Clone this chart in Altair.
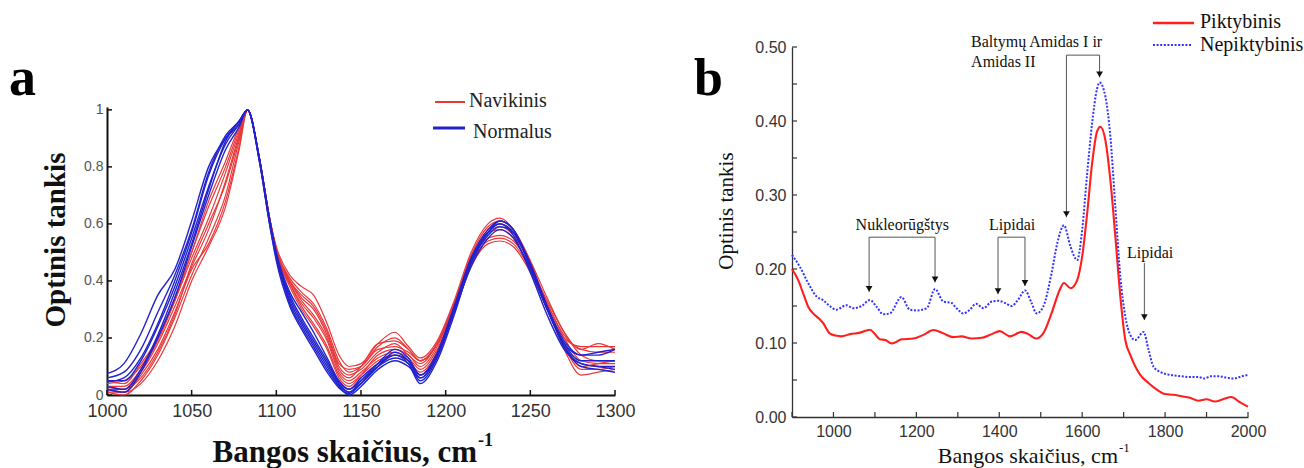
import altair as alt
import pandas as pd

SERIF = "Liberation Serif"
SANS = "Liberation Sans"

# ---------------- Panel a data ----------------
A_X = [1000, 1010, 1020, 1030, 1040, 1050, 1060, 1070, 1078, 1083, 1090, 1096,
       1100, 1108, 1115, 1122, 1130, 1137, 1143, 1150, 1160, 1170, 1178, 1185,
       1195, 1205, 1215, 1225, 1232, 1240, 1250, 1260, 1270, 1280, 1290, 1300]

A_BLUE = [
    [0.075, 0.11, 0.215, 0.35, 0.44, 0.61, 0.80, 0.90, 0.95, 1.0, 0.82, 0.60, 0.47, 0.31, 0.23, 0.16, 0.08, 0.025, 0.005, 0.04, 0.10, 0.15, 0.12, 0.06, 0.14, 0.30, 0.47, 0.57, 0.60, 0.56, 0.43, 0.28, 0.16, 0.11, 0.10, 0.09],
    [0.06, 0.08, 0.16, 0.29, 0.42, 0.58, 0.78, 0.91, 0.96, 1.0, 0.82, 0.60, 0.48, 0.33, 0.25, 0.18, 0.10, 0.035, 0.01, 0.05, 0.11, 0.16, 0.13, 0.07, 0.15, 0.31, 0.48, 0.58, 0.61, 0.58, 0.45, 0.30, 0.18, 0.14, 0.14, 0.16],
    [0.045, 0.06, 0.13, 0.25, 0.40, 0.57, 0.77, 0.90, 0.96, 1.0, 0.82, 0.61, 0.49, 0.35, 0.27, 0.20, 0.12, 0.045, 0.02, 0.06, 0.11, 0.14, 0.11, 0.04, 0.12, 0.28, 0.46, 0.56, 0.59, 0.57, 0.46, 0.31, 0.17, 0.10, 0.09, 0.08],
    [0.02, 0.01, 0.08, 0.20, 0.34, 0.52, 0.70, 0.86, 0.94, 1.0, 0.83, 0.62, 0.50, 0.36, 0.29, 0.22, 0.13, 0.05, 0.02, 0.05, 0.10, 0.13, 0.11, 0.05, 0.13, 0.29, 0.45, 0.55, 0.58, 0.55, 0.44, 0.30, 0.18, 0.12, 0.12, 0.12],
    [0.05, 0.05, 0.12, 0.24, 0.38, 0.55, 0.73, 0.88, 0.95, 1.0, 0.83, 0.61, 0.49, 0.32, 0.24, 0.17, 0.09, 0.03, 0.0, 0.03, 0.09, 0.12, 0.10, 0.06, 0.14, 0.30, 0.47, 0.57, 0.60, 0.57, 0.45, 0.30, 0.17, 0.11, 0.10, 0.10],
    [0.03, 0.02, 0.09, 0.21, 0.36, 0.53, 0.72, 0.89, 0.96, 1.0, 0.83, 0.61, 0.49, 0.34, 0.26, 0.19, 0.11, 0.04, 0.01, 0.04, 0.10, 0.14, 0.12, 0.07, 0.14, 0.30, 0.47, 0.57, 0.61, 0.58, 0.46, 0.31, 0.19, 0.14, 0.15, 0.16],
]

A_RED = [
    [0.04, 0.05, 0.10, 0.20, 0.33, 0.48, 0.62, 0.78, 0.92, 1.0, 0.83, 0.62, 0.52, 0.42, 0.38, 0.35, 0.25, 0.14, 0.10, 0.11, 0.18, 0.22, 0.17, 0.13, 0.19, 0.33, 0.50, 0.60, 0.62, 0.58, 0.46, 0.31, 0.20, 0.17, 0.17, 0.17],
    [0.02, 0.02, 0.08, 0.18, 0.31, 0.45, 0.58, 0.75, 0.91, 1.0, 0.83, 0.62, 0.51, 0.41, 0.36, 0.32, 0.23, 0.12, 0.08, 0.10, 0.17, 0.20, 0.16, 0.12, 0.18, 0.32, 0.48, 0.57, 0.59, 0.56, 0.46, 0.32, 0.21, 0.16, 0.15, 0.15],
    [0.01, 0.0, 0.05, 0.14, 0.27, 0.42, 0.55, 0.70, 0.89, 1.0, 0.83, 0.62, 0.51, 0.40, 0.34, 0.30, 0.21, 0.10, 0.07, 0.09, 0.15, 0.18, 0.14, 0.11, 0.18, 0.31, 0.47, 0.55, 0.56, 0.54, 0.45, 0.33, 0.22, 0.14, 0.12, 0.12],
    [0.03, 0.03, 0.09, 0.19, 0.33, 0.50, 0.66, 0.80, 0.93, 1.0, 0.83, 0.62, 0.50, 0.39, 0.32, 0.27, 0.19, 0.08, 0.05, 0.08, 0.13, 0.15, 0.13, 0.09, 0.16, 0.30, 0.46, 0.54, 0.55, 0.53, 0.44, 0.32, 0.20, 0.12, 0.11, 0.11],
    [0.02, 0.01, 0.07, 0.16, 0.29, 0.44, 0.53, 0.68, 0.87, 1.0, 0.83, 0.62, 0.51, 0.39, 0.31, 0.25, 0.17, 0.07, 0.04, 0.07, 0.12, 0.14, 0.12, 0.08, 0.15, 0.29, 0.45, 0.53, 0.54, 0.52, 0.43, 0.30, 0.17, 0.09, 0.09, 0.10],
    [0.05, 0.04, 0.11, 0.20, 0.34, 0.50, 0.68, 0.82, 0.94, 1.0, 0.83, 0.62, 0.50, 0.38, 0.30, 0.24, 0.16, 0.06, 0.03, 0.07, 0.14, 0.16, 0.14, 0.10, 0.17, 0.31, 0.48, 0.58, 0.60, 0.57, 0.47, 0.34, 0.22, 0.16, 0.18, 0.16],
    [0.01, 0.01, 0.04, 0.12, 0.24, 0.40, 0.52, 0.66, 0.86, 1.0, 0.83, 0.62, 0.51, 0.40, 0.33, 0.28, 0.20, 0.09, 0.06, 0.10, 0.18, 0.19, 0.16, 0.12, 0.18, 0.32, 0.49, 0.59, 0.61, 0.58, 0.47, 0.31, 0.16, 0.07, 0.08, 0.09],
    [0.03, 0.02, 0.06, 0.15, 0.28, 0.46, 0.60, 0.74, 0.90, 1.0, 0.83, 0.62, 0.51, 0.40, 0.35, 0.31, 0.22, 0.11, 0.09, 0.10, 0.16, 0.17, 0.15, 0.12, 0.18, 0.32, 0.48, 0.57, 0.58, 0.55, 0.44, 0.30, 0.18, 0.10, 0.11, 0.12],
]

A_XTICKS = [1000, 1050, 1100, 1150, 1200, 1250, 1300]
A_YTICKS = [0, 0.2, 0.4, 0.6, 0.8, 1]
A_LEGEND = ["Navikinis", "Normalus"]
A_YTITLE = "Optinis tankis"
A_XTITLE = "Bangos skaičius, cm"
SUP = "-1"

# ---------------- Panel b data ----------------
B_RED_X = [900, 915, 927, 940, 951, 965, 975, 991, 1005, 1019, 1040, 1064, 1088, 1100, 1112,
           1125, 1140, 1150, 1164, 1193, 1217, 1241, 1265, 1289, 1309, 1333, 1358, 1382, 1401,
           1426, 1454, 1470, 1489, 1506, 1526, 1546, 1556, 1572, 1588, 1600, 1612, 1624, 1636,
           1644, 1656, 1668, 1680, 1692, 1704, 1716, 1740, 1760, 1780, 1800, 1820, 1840, 1860,
           1880, 1900, 1920, 1940, 1960, 1980, 2000]
B_RED_Y = [0.200, 0.185, 0.167, 0.148, 0.140, 0.133, 0.127, 0.113, 0.110, 0.109, 0.112, 0.114,
           0.118, 0.112, 0.105, 0.104, 0.0995, 0.101, 0.105, 0.106, 0.111, 0.1175, 0.113, 0.108,
           0.109, 0.106, 0.107, 0.112, 0.116, 0.109, 0.115, 0.112, 0.106, 0.113, 0.140, 0.172,
           0.181, 0.174, 0.185, 0.217, 0.275, 0.343, 0.386, 0.392, 0.374, 0.320, 0.244, 0.163,
           0.104, 0.084, 0.057, 0.046, 0.037, 0.031, 0.030, 0.028, 0.026, 0.022, 0.024, 0.021,
           0.024, 0.027, 0.020, 0.014]

B_BLUE_X = [900, 919, 939, 959, 975, 991, 1007, 1031, 1048, 1068, 1088, 1104, 1120, 1136, 1164,
            1184, 1200, 1225, 1245, 1265, 1285, 1297, 1313, 1329, 1344, 1362, 1382, 1398, 1414,
            1430, 1446, 1462, 1478, 1490, 1506, 1526, 1540, 1556, 1572, 1588, 1600, 1612, 1624,
            1636, 1642, 1656, 1668, 1680, 1692, 1704, 1716, 1728, 1748, 1760, 1772, 1788, 1812,
            1840, 1860, 1880, 1895, 1910, 1930, 1950, 1965, 1985, 2000]
B_BLUE_Y = [0.219, 0.203, 0.181, 0.163, 0.158, 0.150, 0.145, 0.151, 0.147, 0.150, 0.158, 0.149,
            0.139, 0.140, 0.162, 0.145, 0.144, 0.147, 0.173, 0.156, 0.154, 0.147, 0.140, 0.145,
            0.153, 0.147, 0.156, 0.157, 0.154, 0.150, 0.159, 0.171, 0.154, 0.140, 0.149, 0.194,
            0.235, 0.259, 0.230, 0.212, 0.253, 0.329, 0.397, 0.444, 0.452, 0.433, 0.379, 0.284,
            0.190, 0.136, 0.111, 0.104, 0.115, 0.091, 0.068, 0.061, 0.057, 0.055, 0.054, 0.054,
            0.052, 0.055, 0.055, 0.053, 0.052, 0.055, 0.057]

B_XLABELS = [1000, 1200, 1400, 1600, 1800, 2000]
B_XTICKS = [900, 1000, 1100, 1200, 1300, 1400, 1500, 1600, 1700, 1800, 1900, 2000]
B_YLABELS = [0.0, 0.1, 0.2, 0.3, 0.4, 0.5]
B_YTICKS = [0.0, 0.05, 0.1, 0.15, 0.2, 0.25, 0.3, 0.35, 0.4, 0.45, 0.5]
B_LEGEND = ["Piktybinis", "Nepiktybinis"]
B_YTITLE = "Optinis tankis"

# annotation bands (wavenumber, arrow tip level, bracket level)
ANN_BRACKETS = [  # left x, right x, bracket level
    (1086, 1245, 0.243),
    (1397, 1462, 0.243),
    (1562, 1642, 0.489),
]
ANN_ARROWS_X = [1086, 1245, 1397, 1462, 1750, 1562, 1642]
ANN_ARROWS_TOP = [0.243, 0.243, 0.243, 0.243, 0.208, 0.489, 0.489]
ANN_ARROWS_TIP = [0.169, 0.182, 0.166, 0.177, 0.131, 0.270, 0.459]
ANN_TEXT_C = ["Nukleorūgštys", "Lipidai", "Lipidai"]
ANN_TEXT_C_X = [1166, 1431, 1764]
ANN_TEXT_C_Y = [0.259, 0.259, 0.221]
ANN_TEXT_L = ["Baltymų Amidas I ir", "Amidas II"]
ANN_TEXT_L_X = [1332, 1332]
ANN_TEXT_L_Y = [0.507, 0.480]

# ---------------- build tables ----------------
def long(curves):
    rows = []
    for i, c in enumerate(curves):
        for x, y in zip(A_X, c):
            rows.append({"x": x, "y": y, "id": i})
    return pd.DataFrame(rows)

dfa_red = long(A_RED)
dfa_blue = long(A_BLUE)
dfb_red = pd.DataFrame({"x": B_RED_X, "y": B_RED_Y})
dfb_blue = pd.DataFrame({"x": B_BLUE_X, "y": B_BLUE_Y})
one = pd.DataFrame({"k": [0]})

# ---------------- panel a ----------------
sAx = alt.Scale(domain=[1000, 1300], range=[107, 615], nice=False, zero=False)
sAy = alt.Scale(domain=[0, 1.01], range=[395, 107], nice=False, zero=False)
axAx = alt.Axis(orient="bottom", offset=-73, values=A_XTICKS, format="d", ticks=False,
                domainColor="#111", domainWidth=2, labelFont=SANS, labelFontSize=18,
                labelColor="#333", labelPadding=7, labelFlush=False, grid=False, title=None)
axAy = alt.Axis(orient="left", offset=-107, values=A_YTICKS, format="~g", ticks=False,
                domainColor="#111", domainWidth=2, labelFont=SANS, labelFontSize=14,
                labelColor="#555", labelPadding=4, labelFlush=False, grid=False, title=None)
XA = alt.X("x:Q", scale=sAx, axis=axAx)
YA = alt.Y("y:Q", scale=sAy, axis=axAy)

RED_A = "#e8383a"
BLUE_A = "#2222cc"

a_red = alt.Chart(dfa_red).mark_line(color=RED_A, strokeWidth=1.2, interpolate="monotone").encode(
    x=XA, y=YA, detail="id:N")
a_blue = alt.Chart(dfa_blue).mark_line(color=BLUE_A, strokeWidth=1.4, interpolate="monotone").encode(
    x=XA, y=YA, detail="id:N")
a_xt = alt.Chart(pd.DataFrame({"x": A_XTICKS})).mark_rule(color="#111", strokeWidth=1.5).encode(
    x=XA, y=alt.value(395), y2=alt.value(390))
a_yt = alt.Chart(pd.DataFrame({"y": A_YTICKS})).mark_rule(color="#111", strokeWidth=1.5).encode(
    y=YA, x=alt.value(107), x2=alt.value(112))

a_leg_r = alt.Chart(one).mark_rule(color=RED_A, strokeWidth=2).encode(
    x=alt.value(435), x2=alt.value(465), y=alt.value(102))
a_leg_b = alt.Chart(one).mark_rule(color=BLUE_A, strokeWidth=3).encode(
    x=alt.value(433), x2=alt.value(465), y=alt.value(128))
a_leg_t1 = alt.Chart(pd.DataFrame({"t": [A_LEGEND[0]]})).mark_text(
    font=SERIF, fontSize=20, color="#222", align="left", baseline="alphabetic").encode(
    text="t:N", x=alt.value(469), y=alt.value(107))
a_leg_t2 = alt.Chart(pd.DataFrame({"t": [A_LEGEND[1]]})).mark_text(
    font=SERIF, fontSize=20, color="#222", align="left", baseline="alphabetic").encode(
    text="t:N", x=alt.value(473), y=alt.value(138))

a_ytitle = alt.Chart(pd.DataFrame({"t": [A_YTITLE]})).mark_text(
    font=SERIF, fontSize=29, fontWeight="bold", color="#111", angle=270,
    align="center", baseline="middle").encode(text="t:N", x=alt.value(56), y=alt.value(240))
a_xtitle = alt.Chart(pd.DataFrame({"t": [A_XTITLE]})).mark_text(
    font=SERIF, fontSize=31, fontWeight="bold", color="#111",
    align="right", baseline="alphabetic").encode(text="t:N", x=alt.value(477), y=alt.value(462))
a_xsup = alt.Chart(pd.DataFrame({"t": [SUP]})).mark_text(
    font=SERIF, fontSize=18, fontWeight="bold", color="#111",
    align="left", baseline="alphabetic").encode(text="t:N", x=alt.value(478), y=alt.value(446))
a_letter = alt.Chart(pd.DataFrame({"t": ["a"]})).mark_text(
    font=SERIF, fontSize=54, fontWeight="bold", color="#000",
    align="left", baseline="alphabetic").encode(text="t:N", x=alt.value(9), y=alt.value(95))

panelA = alt.layer(a_red, a_blue, a_xt, a_yt, a_leg_r, a_leg_b, a_leg_t1, a_leg_t2,
                   a_ytitle, a_xtitle, a_xsup, a_letter)

# ---------------- panel b ----------------
sBx = alt.Scale(domain=[900, 2000], range=[792, 1248], nice=False, zero=False)
sBy = alt.Scale(domain=[0, 0.5], range=[417, 47], nice=False, zero=False)
axBx = alt.Axis(orient="bottom", offset=-51, values=B_XLABELS, format="d", ticks=False,
                domainColor="#333", domainWidth=1.3, labelFont=SANS, labelFontSize=16,
                labelColor="#333", labelPadding=6, labelFlush=False, grid=False, title=None)
axBy = alt.Axis(orient="left", offset=-792, values=B_YLABELS, format=".2f", ticks=False,
                domainColor="#333", domainWidth=1.3, labelFont=SANS, labelFontSize=16,
                labelColor="#333", labelPadding=6, labelFlush=False, grid=False, title=None)
XB = alt.X("x:Q", scale=sBx, axis=axBx)
YB = alt.Y("y:Q", scale=sBy, axis=axBy)

b_red = alt.Chart(dfb_red).mark_line(color="#ff1f1f", strokeWidth=2.1, interpolate="monotone").encode(
    x=XB, y=YB)
b_blue = alt.Chart(dfb_blue).mark_line(color="#3333ff", strokeWidth=2, strokeDash=[2, 1.6],
                                       interpolate="monotone").encode(x=XB, y=YB)
b_xt = alt.Chart(pd.DataFrame({"x": B_XTICKS})).mark_rule(color="#333", strokeWidth=1.2).encode(
    x=XB, y=alt.value(417), y2=alt.value(412))
b_yt = alt.Chart(pd.DataFrame({"y": B_YTICKS})).mark_rule(color="#333", strokeWidth=1.2).encode(
    y=YB, x=alt.value(792), x2=alt.value(797))

br = pd.DataFrame({"x": [b[0] for b in ANN_BRACKETS], "x2": [b[1] for b in ANN_BRACKETS],
                   "y": [b[2] for b in ANN_BRACKETS]})
b_brh = alt.Chart(br).mark_rule(color="#555", strokeWidth=1).encode(
    x=XB, x2="x2:Q", y=YB)
ar = pd.DataFrame({"x": ANN_ARROWS_X, "y": ANN_ARROWS_TOP, "y2": ANN_ARROWS_TIP})
b_arv = alt.Chart(ar).mark_rule(color="#555", strokeWidth=1).encode(x=XB, y=YB, y2="y2:Q")
tips = pd.DataFrame({"x": ANN_ARROWS_X, "y": ANN_ARROWS_TIP})
b_tips = alt.Chart(tips).mark_point(shape="triangle-down", filled=True, color="#111",
                                    size=45, opacity=1, yOffset=-3).encode(x=XB, y=YB)
tc = pd.DataFrame({"x": ANN_TEXT_C_X, "y": ANN_TEXT_C_Y, "t": ANN_TEXT_C})
b_tc = alt.Chart(tc).mark_text(font=SERIF, fontSize=16, color="#111", align="center",
                               baseline="middle").encode(x=XB, y=YB, text="t:N")
tl = pd.DataFrame({"x": ANN_TEXT_L_X, "y": ANN_TEXT_L_Y, "t": ANN_TEXT_L})
b_tl = alt.Chart(tl).mark_text(font=SERIF, fontSize=16, color="#111", align="left",
                               baseline="middle").encode(x=XB, y=YB, text="t:N")

b_leg_r = alt.Chart(one).mark_rule(color="#ff1f1f", strokeWidth=2.5).encode(
    x=alt.value(1153), x2=alt.value(1194), y=alt.value(23))
b_leg_b = alt.Chart(one).mark_rule(color="#3333ff", strokeWidth=2, strokeDash=[2, 1.6]).encode(
    x=alt.value(1153), x2=alt.value(1192), y=alt.value(45))
b_leg_t1 = alt.Chart(pd.DataFrame({"t": [B_LEGEND[0]]})).mark_text(
    font=SERIF, fontSize=20, color="#111", align="left", baseline="alphabetic").encode(
    text="t:N", x=alt.value(1200), y=alt.value(28))
b_leg_t2 = alt.Chart(pd.DataFrame({"t": [B_LEGEND[1]]})).mark_text(
    font=SERIF, fontSize=20, color="#111", align="left", baseline="alphabetic").encode(
    text="t:N", x=alt.value(1200), y=alt.value(51))

b_ytitle = alt.Chart(pd.DataFrame({"t": [B_YTITLE]})).mark_text(
    font=SERIF, fontSize=21, color="#111", angle=270,
    align="center", baseline="middle").encode(text="t:N", x=alt.value(727), y=alt.value(211))
b_xtitle = alt.Chart(pd.DataFrame({"t": [A_XTITLE]})).mark_text(
    font=SERIF, fontSize=22, color="#111",
    align="right", baseline="alphabetic").encode(text="t:N", x=alt.value(1118), y=alt.value(463))
b_xsup = alt.Chart(pd.DataFrame({"t": [SUP]})).mark_text(
    font=SERIF, fontSize=13, color="#111",
    align="left", baseline="alphabetic").encode(text="t:N", x=alt.value(1119), y=alt.value(452))
b_letter = alt.Chart(pd.DataFrame({"t": ["b"]})).mark_text(
    font=SERIF, fontSize=52, fontWeight="bold", color="#000",
    align="left", baseline="alphabetic").encode(text="t:N", x=alt.value(694), y=alt.value(95))

panelB = alt.layer(b_red, b_blue, b_xt, b_yt, b_brh, b_arv, b_tips, b_tc, b_tl,
                   b_leg_r, b_leg_b, b_leg_t1, b_leg_t2, b_ytitle, b_xtitle, b_xsup, b_letter)

chart = alt.layer(panelA, panelB).resolve_scale(
    x="independent", y="independent").resolve_axis(
    x="independent", y="independent").properties(
    width=1304, height=468, padding=0, background="white",
    autosize=alt.AutoSizeParams(type="none")).configure_view(stroke=None)

chart.save("out.html", embed_options={"renderer": "svg", "actions": False})
